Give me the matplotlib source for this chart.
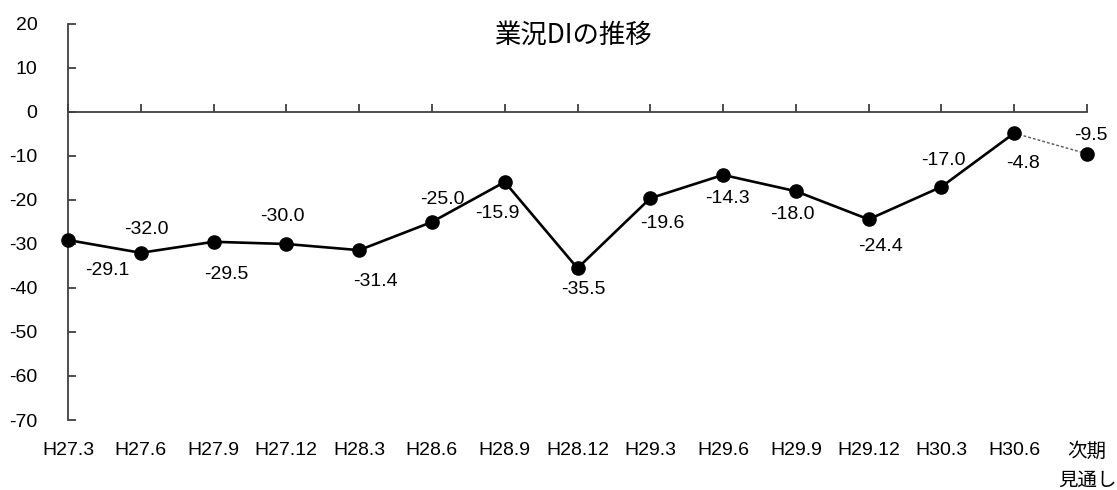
import matplotlib
matplotlib.use("Agg")
import matplotlib.pyplot as plt

# 業況DI（四半期ごと、最後は次期見通し）
periods = ["H27.3", "H27.6", "H27.9", "H27.12", "H28.3", "H28.6", "H28.9",
           "H28.12", "H29.3", "H29.6", "H29.9", "H29.12", "H30.3", "H30.6",
           "次期\n見通し"]
di_values = [-29.1, -32.0, -29.5, -30.0, -31.4, -25.0, -15.9,
             -35.5, -19.6, -14.3, -18.0, -24.4, -17.0, -4.8, -9.5]
y_ticks = [20, 10, 0, -10, -20, -30, -40, -50, -60, -70]

# data-label placement (pixel offsets from each point)
label_offsets = [(39, -30), (6, 23), (13, -33), (-4, 27), (16, -31),
                 (10, 22), (-7, -32), (6, -21), (12, -25), (4, -24),
                 (-3, -23), (12, -27), (2, 26), (9, -30), (4, 18)]

FONTS = ["Liberation Sans", "Noto Sans CJK JP", "DejaVu Sans"]
plt.rcParams["font.family"] = FONTS
axis_color = "#404040"
TXT = 14

fig = plt.figure(figsize=(11.17, 4.90), dpi=100)
ax = fig.add_axes([68 / 1117, 1 - 420 / 490, (1087 - 68) / 1117, (420 - 24) / 490])

x = list(range(len(di_values)))
n_actual = len(di_values) - 1

# actual results: solid line with markers
ax.plot(x[:n_actual], di_values[:n_actual], color="black", lw=1.9,
        marker="o", markersize=9.5, zorder=3, clip_on=False)
# outlook: thin dotted link to the forecast point
ax.plot(x[n_actual - 1:], di_values[n_actual - 1:], color="#555555", lw=1.0,
        ls=(0, (2, 1.5)), zorder=2, clip_on=False)
ax.plot(x[-1:], di_values[-1:], color="black", marker="o", markersize=9.5,
        ls="none", zorder=3, clip_on=False)

for xi, v, (dx, dy) in zip(x, di_values, label_offsets):
    ax.annotate(f"{v:.1f}", (xi, v), xytext=(dx, dy), textcoords="offset pixels",
                ha="center", va="center", fontsize=TXT, color="black")

ax.set_xlim(0, len(di_values) - 1)
ax.set_ylim(-70, 20)
ax.set_yticks(y_ticks)
ax.set_yticklabels([str(t) for t in y_ticks])

for side in ("top", "right"):
    ax.spines[side].set_visible(False)
ax.spines["bottom"].set_position(("data", 0))
ax.spines["bottom"].set_color(axis_color)
ax.spines["left"].set_color(axis_color)
ax.spines["bottom"].set_linewidth(1.3)
ax.spines["left"].set_linewidth(1.3)

ax.set_xticks(x)
ax.tick_params(axis="x", direction="in", length=6, width=1.3,
               color=axis_color, labelbottom=False)
ax.tick_params(axis="y", direction="in", length=6, width=1.3,
               color=axis_color, labelsize=TXT, pad=22)

# category labels along the bottom edge of the plot area
sec = ax.secondary_xaxis(0.0)
sec.set_xticks(x)
sec.set_xticklabels(periods, fontsize=TXT, linespacing=1.95, va="top")
sec.tick_params(length=0, pad=16)
sec.spines["bottom"].set_visible(False)

fig.text(573 / 1117, 1 - 35 / 490, "業況DIの推移", ha="center", va="center",
         fontsize=19, family=["Noto Sans CJK JP", "DejaVu Sans"])

fig.savefig("out.png", dpi=100, facecolor="white")
